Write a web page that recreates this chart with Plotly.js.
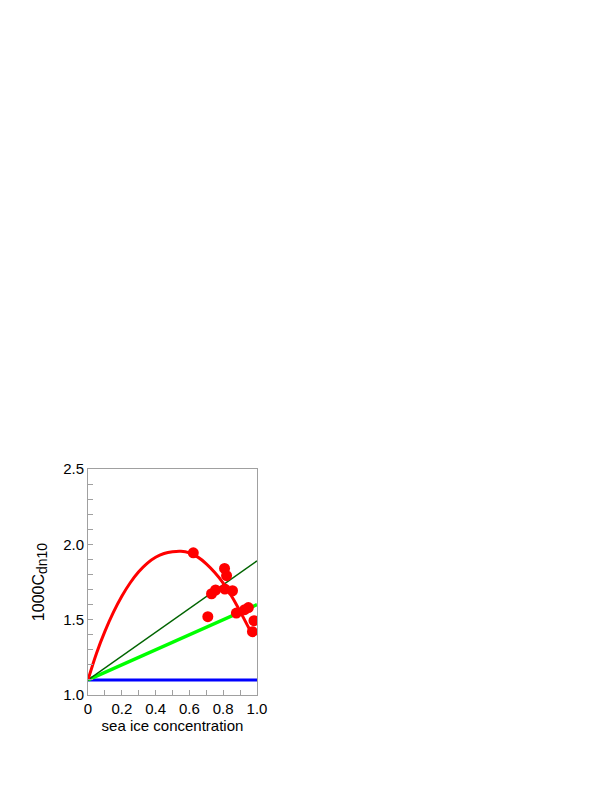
<!DOCTYPE html>
<html>
<head>
<meta charset="utf-8">
<script src="https://cdn.plot.ly/plotly-3.0.1.min.js"></script>
<style>html,body{margin:0;padding:0;background:#fff;}#chart{width:612px;height:792px;}</style>
</head>
<body>
<div id="chart"></div>
<script>
// Observed data points
var obsX = [0.623, 0.709, 0.731, 0.755, 0.808, 0.820, 0.810, 0.855, 0.878, 0.927, 0.949, 0.982, 0.973];
var obsY = [1.944, 1.520, 1.672, 1.697, 1.840, 1.792, 1.703, 1.692, 1.544, 1.566, 1.580, 1.493, 1.420];

// Red fitted curve
var curveX = [0, 0.05, 0.10, 0.15, 0.20, 0.25, 0.30, 0.35, 0.40, 0.45, 0.50, 0.55, 0.60, 0.65, 0.70, 0.75, 0.80, 0.85, 0.90, 0.95, 0.975];
var curveY = [1.100, 1.276, 1.422, 1.548, 1.655, 1.745, 1.818, 1.874, 1.914, 1.939, 1.951, 1.954, 1.943, 1.915, 1.871, 1.813, 1.743, 1.655, 1.555, 1.448, 1.395];

// Straight lines
var lineX = [0, 1];
var darkGreenY = [1.10, 1.89];
var lightGreenY = [1.10, 1.60];
var blueY = [1.10, 1.10];

var xTickVals = [0, 0.2, 0.4, 0.6, 0.8, 1.0];
var xTickText = ["0", "0.2", "0.4", "0.6", "0.8", "1.0"];
var yTickVals = [1.0, 1.5, 2.0, 2.5];
var yTickText = ["1.0", "1.5", "2.0", "2.5"];

var FONT = 'Liberation Sans, Arial, sans-serif';

var traces = [
  {x: lineX, y: blueY, mode: 'lines', line: {color: '#0000ff', width: 3}},
  {x: lineX, y: lightGreenY, mode: 'lines', line: {color: '#00ff00', width: 3.5}},
  {x: lineX, y: darkGreenY, mode: 'lines', line: {color: '#006400', width: 1.5}},
  {x: curveX, y: curveY, mode: 'lines', line: {color: '#ff0000', width: 3, shape: 'spline', smoothing: 1}},
  {x: obsX, y: obsY, mode: 'markers', marker: {color: '#ff0000', size: 11}}
];

var axisCommon = {
  showgrid: false, zeroline: false, showline: true, linecolor: '#a0a0a0', linewidth: 1,
  mirror: true, ticks: 'inside', ticklen: 5, tickcolor: '#a0a0a0', tickwidth: 1,
  tickfont: {family: FONT, size: 15, color: '#000'}
};

var layout = {
  width: 612, height: 792,
  margin: {l: 88, r: 355, t: 469, b: 97},
  paper_bgcolor: '#fff', plot_bgcolor: '#fff',
  showlegend: false,
  xaxis: Object.assign({}, axisCommon, {
    range: [0, 1], tickmode: 'array', tickvals: xTickVals, ticktext: xTickText,
    minor: {dtick: 0.1, ticks: 'inside', ticklen: 5, tickcolor: '#a0a0a0'},
    title: {text: 'sea ice concentration', font: {family: FONT, size: 15, color: '#000'}, standoff: 0}
  }),
  yaxis: Object.assign({}, axisCommon, {
    range: [1, 2.5], tickmode: 'array', tickvals: yTickVals, ticktext: yTickText,
    minor: {dtick: 0.1, ticks: 'inside', ticklen: 5, tickcolor: '#a0a0a0'},
    title: {text: '1000C<sub><span style="font-size:14px">dn10</span></sub>', font: {family: FONT, size: 16, color: '#000'}, standoff: 14}
  })
};

Plotly.newPlot('chart', traces, layout, {displayModeBar: false, staticPlot: true});
</script>
</body>
</html>
